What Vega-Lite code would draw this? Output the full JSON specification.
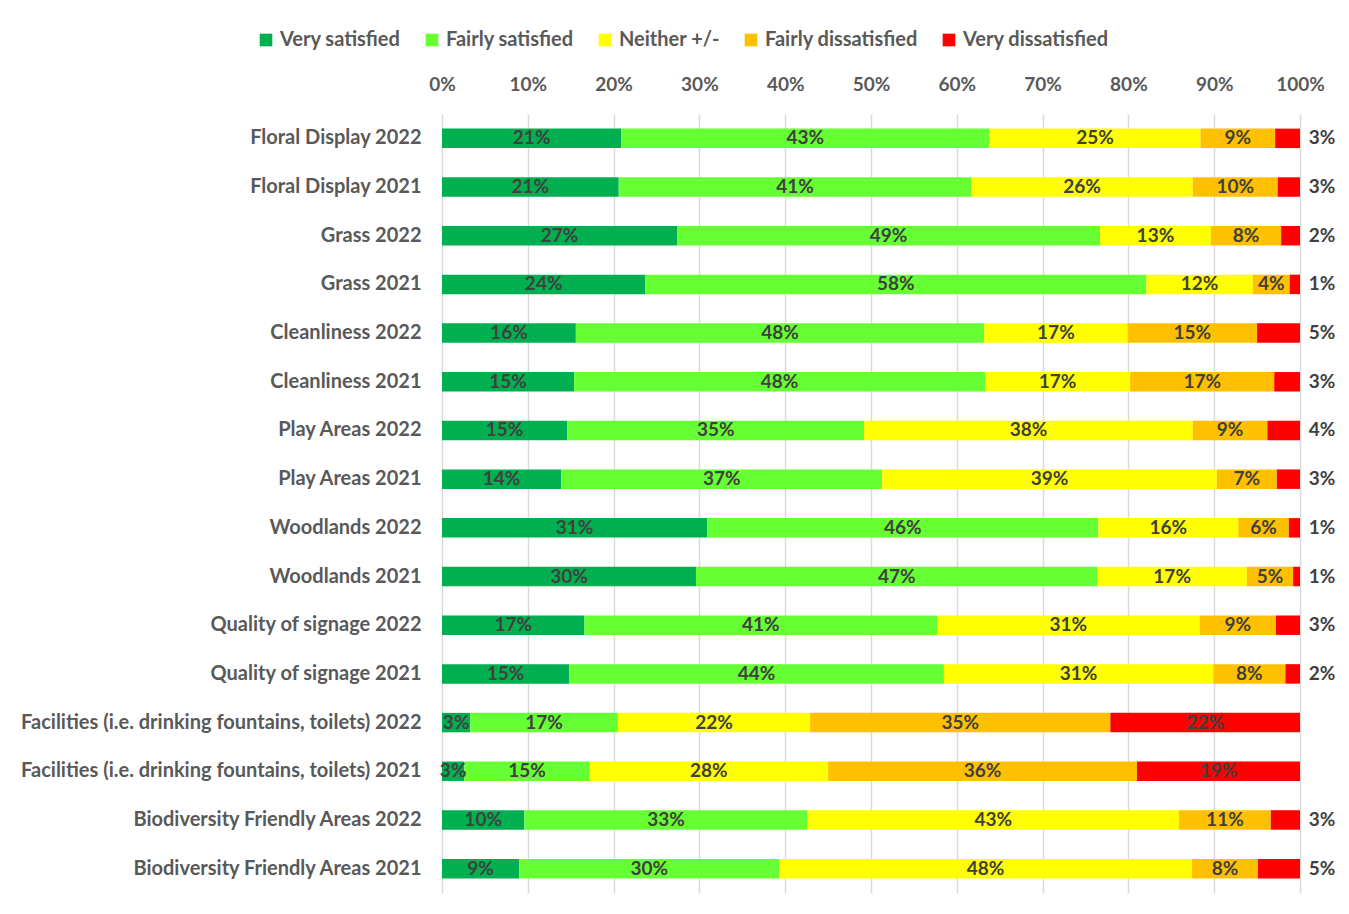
{
  "$schema": "https://vega.github.io/schema/vega-lite/v6.json",
  "autosize": {"type": "none"},
  "padding": {"left": 442, "top": 114, "right": 49, "bottom": 21},
  "width": 858,
  "height": 779,
  "background": "white",
  "config": {
    "view": {"stroke": null},
    "font": "Lato"
  },
  "data": {
    "values": [
      {"item": "Floral Display 2022", "rating": "Very satisfied", "value": 0.209},
      {"item": "Floral Display 2022", "rating": "Fairly satisfied", "value": 0.429},
      {"item": "Floral Display 2022", "rating": "Neither +/-", "value": 0.246},
      {"item": "Floral Display 2022", "rating": "Fairly dissatisfied", "value": 0.087},
      {"item": "Floral Display 2022", "rating": "Very dissatisfied", "value": 0.029},
      {"item": "Floral Display 2021", "rating": "Very satisfied", "value": 0.206},
      {"item": "Floral Display 2021", "rating": "Fairly satisfied", "value": 0.411},
      {"item": "Floral Display 2021", "rating": "Neither +/-", "value": 0.258},
      {"item": "Floral Display 2021", "rating": "Fairly dissatisfied", "value": 0.099},
      {"item": "Floral Display 2021", "rating": "Very dissatisfied", "value": 0.026},
      {"item": "Grass 2022", "rating": "Very satisfied", "value": 0.274},
      {"item": "Grass 2022", "rating": "Fairly satisfied", "value": 0.493},
      {"item": "Grass 2022", "rating": "Neither +/-", "value": 0.129},
      {"item": "Grass 2022", "rating": "Fairly dissatisfied", "value": 0.082},
      {"item": "Grass 2022", "rating": "Very dissatisfied", "value": 0.022},
      {"item": "Grass 2021", "rating": "Very satisfied", "value": 0.237},
      {"item": "Grass 2021", "rating": "Fairly satisfied", "value": 0.584},
      {"item": "Grass 2021", "rating": "Neither +/-", "value": 0.124},
      {"item": "Grass 2021", "rating": "Fairly dissatisfied", "value": 0.043},
      {"item": "Grass 2021", "rating": "Very dissatisfied", "value": 0.012},
      {"item": "Cleanliness 2022", "rating": "Very satisfied", "value": 0.156},
      {"item": "Cleanliness 2022", "rating": "Fairly satisfied", "value": 0.476},
      {"item": "Cleanliness 2022", "rating": "Neither +/-", "value": 0.167},
      {"item": "Cleanliness 2022", "rating": "Fairly dissatisfied", "value": 0.151},
      {"item": "Cleanliness 2022", "rating": "Very dissatisfied", "value": 0.050},
      {"item": "Cleanliness 2021", "rating": "Very satisfied", "value": 0.154},
      {"item": "Cleanliness 2021", "rating": "Fairly satisfied", "value": 0.479},
      {"item": "Cleanliness 2021", "rating": "Neither +/-", "value": 0.169},
      {"item": "Cleanliness 2021", "rating": "Fairly dissatisfied", "value": 0.168},
      {"item": "Cleanliness 2021", "rating": "Very dissatisfied", "value": 0.030},
      {"item": "Play Areas 2022", "rating": "Very satisfied", "value": 0.146},
      {"item": "Play Areas 2022", "rating": "Fairly satisfied", "value": 0.346},
      {"item": "Play Areas 2022", "rating": "Neither +/-", "value": 0.383},
      {"item": "Play Areas 2022", "rating": "Fairly dissatisfied", "value": 0.087},
      {"item": "Play Areas 2022", "rating": "Very dissatisfied", "value": 0.038},
      {"item": "Play Areas 2021", "rating": "Very satisfied", "value": 0.139},
      {"item": "Play Areas 2021", "rating": "Fairly satisfied", "value": 0.374},
      {"item": "Play Areas 2021", "rating": "Neither +/-", "value": 0.390},
      {"item": "Play Areas 2021", "rating": "Fairly dissatisfied", "value": 0.070},
      {"item": "Play Areas 2021", "rating": "Very dissatisfied", "value": 0.027},
      {"item": "Woodlands 2022", "rating": "Very satisfied", "value": 0.309},
      {"item": "Woodlands 2022", "rating": "Fairly satisfied", "value": 0.456},
      {"item": "Woodlands 2022", "rating": "Neither +/-", "value": 0.163},
      {"item": "Woodlands 2022", "rating": "Fairly dissatisfied", "value": 0.059},
      {"item": "Woodlands 2022", "rating": "Very dissatisfied", "value": 0.013},
      {"item": "Woodlands 2021", "rating": "Very satisfied", "value": 0.296},
      {"item": "Woodlands 2021", "rating": "Fairly satisfied", "value": 0.468},
      {"item": "Woodlands 2021", "rating": "Neither +/-", "value": 0.174},
      {"item": "Woodlands 2021", "rating": "Fairly dissatisfied", "value": 0.054},
      {"item": "Woodlands 2021", "rating": "Very dissatisfied", "value": 0.008},
      {"item": "Quality of signage 2022", "rating": "Very satisfied", "value": 0.166},
      {"item": "Quality of signage 2022", "rating": "Fairly satisfied", "value": 0.411},
      {"item": "Quality of signage 2022", "rating": "Neither +/-", "value": 0.306},
      {"item": "Quality of signage 2022", "rating": "Fairly dissatisfied", "value": 0.089},
      {"item": "Quality of signage 2022", "rating": "Very dissatisfied", "value": 0.028},
      {"item": "Quality of signage 2021", "rating": "Very satisfied", "value": 0.148},
      {"item": "Quality of signage 2021", "rating": "Fairly satisfied", "value": 0.437},
      {"item": "Quality of signage 2021", "rating": "Neither +/-", "value": 0.314},
      {"item": "Quality of signage 2021", "rating": "Fairly dissatisfied", "value": 0.084},
      {"item": "Quality of signage 2021", "rating": "Very dissatisfied", "value": 0.017},
      {"item": "Facilities (i.e. drinking fountains, toilets) 2022", "rating": "Very satisfied", "value": 0.033},
      {"item": "Facilities (i.e. drinking fountains, toilets) 2022", "rating": "Fairly satisfied", "value": 0.172},
      {"item": "Facilities (i.e. drinking fountains, toilets) 2022", "rating": "Neither +/-", "value": 0.224},
      {"item": "Facilities (i.e. drinking fountains, toilets) 2022", "rating": "Fairly dissatisfied", "value": 0.350},
      {"item": "Facilities (i.e. drinking fountains, toilets) 2022", "rating": "Very dissatisfied", "value": 0.221},
      {"item": "Facilities (i.e. drinking fountains, toilets) 2021", "rating": "Very satisfied", "value": 0.026},
      {"item": "Facilities (i.e. drinking fountains, toilets) 2021", "rating": "Fairly satisfied", "value": 0.146},
      {"item": "Facilities (i.e. drinking fountains, toilets) 2021", "rating": "Neither +/-", "value": 0.278},
      {"item": "Facilities (i.e. drinking fountains, toilets) 2021", "rating": "Fairly dissatisfied", "value": 0.360},
      {"item": "Facilities (i.e. drinking fountains, toilets) 2021", "rating": "Very dissatisfied", "value": 0.190},
      {"item": "Biodiversity Friendly Areas 2022", "rating": "Very satisfied", "value": 0.096},
      {"item": "Biodiversity Friendly Areas 2022", "rating": "Fairly satisfied", "value": 0.330},
      {"item": "Biodiversity Friendly Areas 2022", "rating": "Neither +/-", "value": 0.433},
      {"item": "Biodiversity Friendly Areas 2022", "rating": "Fairly dissatisfied", "value": 0.107},
      {"item": "Biodiversity Friendly Areas 2022", "rating": "Very dissatisfied", "value": 0.034},
      {"item": "Biodiversity Friendly Areas 2021", "rating": "Very satisfied", "value": 0.090},
      {"item": "Biodiversity Friendly Areas 2021", "rating": "Fairly satisfied", "value": 0.303},
      {"item": "Biodiversity Friendly Areas 2021", "rating": "Neither +/-", "value": 0.481},
      {"item": "Biodiversity Friendly Areas 2021", "rating": "Fairly dissatisfied", "value": 0.077},
      {"item": "Biodiversity Friendly Areas 2021", "rating": "Very dissatisfied", "value": 0.049}
    ]
  },
  "transform": [
    {
      "lookup": "rating",
      "from": {
        "data": {
          "values": [
            {"rating": "Very satisfied", "rank": 1},
            {"rating": "Fairly satisfied", "rank": 2},
            {"rating": "Neither +/-", "rank": 3},
            {"rating": "Fairly dissatisfied", "rank": 4},
            {"rating": "Very dissatisfied", "rank": 5}
          ]
        },
        "key": "rating",
        "fields": ["rank"]
      }
    }
  ],
  "encoding": {
    "y": {
      "field": "item",
      "type": "nominal",
      "sort": null,
      "scale": {"paddingInner": 0.6, "paddingOuter": 0.3},
      "axis": {
        "title": null,
        "domain": false,
        "ticks": false,
        "tickSize": 0,
        "labelPadding": 21,
        "labelLimit": 600,
        "labelFont": "Lato",
        "labelFontWeight": "bold",
        "labelFontSize": 20,
        "labelColor": "#595959"
      }
    }
  },
  "layer": [
    {
      "mark": {"type": "bar"},
      "encoding": {
        "x": {
          "field": "value",
          "type": "quantitative",
          "stack": "zero",
          "scale": {"domain": [0, 1], "nice": false},
          "axis": {
            "orient": "top",
            "title": null,
            "format": ".0%",
            "values": [0, 0.1, 0.2, 0.3, 0.4, 0.5, 0.6, 0.7, 0.8, 0.9, 1],
            "domain": false,
            "ticks": false,
            "tickSize": 0,
            "labelFlush": false,
            "labelOverlap": false,
            "labelPadding": 20,
            "labelFont": "Lato",
            "labelFontWeight": "bold",
            "labelFontSize": 19,
            "labelColor": "#595959",
            "grid": true,
            "gridColor": "#d9d9d9",
            "gridWidth": 1.5
          }
        },
        "order": {"field": "rank", "type": "quantitative", "sort": "ascending"},
        "color": {
          "field": "rating",
          "type": "nominal",
          "sort": ["Very satisfied", "Fairly satisfied", "Neither +/-", "Fairly dissatisfied", "Very dissatisfied"],
          "scale": {
            "domain": ["Very satisfied", "Fairly satisfied", "Neither +/-", "Fairly dissatisfied", "Very dissatisfied"],
            "range": ["#00B050", "#66FF33", "#FFFF00", "#FFC000", "#FF0000"]
          },
          "legend": {
            "title": null,
            "orient": "none",
            "direction": "horizontal",
            "legendX": -186,
            "legendY": -84,
            "symbolType": "square",
            "symbolSize": 160,
            "symbolStrokeWidth": 0,
            "labelFont": "Lato",
            "labelFontWeight": "bold",
            "labelFontSize": 20,
            "labelColor": "#595959",
            "labelOffset": 4,
            "columnPadding": 21
          }
        }
      }
    },
    {
      "transform": [{"filter": "!(datum.rating == 'Very dissatisfied' && datum.value < 0.1)"}],
      "mark": {"type": "text", "font": "Lato", "fontWeight": "bold", "fontSize": 19, "baseline": "middle", "align": "center"},
      "encoding": {
        "x": {"field": "value", "type": "quantitative", "stack": "zero", "bandPosition": 0.5},
        "order": {"field": "rank", "type": "quantitative", "sort": "ascending"},
        "color": {
          "field": "rating",
          "type": "nominal",
          "sort": ["Very satisfied", "Fairly satisfied", "Neither +/-", "Fairly dissatisfied", "Very dissatisfied"]
        },
        "fill": {"value": "#404040"},
        "text": {"field": "value", "type": "quantitative", "format": ".0%"}
      }
    },
    {
      "transform": [{"filter": "datum.rating == 'Very dissatisfied' && datum.value < 0.1"}],
      "mark": {"type": "text", "font": "Lato", "fontWeight": "bold", "fontSize": 19, "baseline": "middle", "align": "center", "dx": 22, "fill": "#404040"},
      "encoding": {
        "x": {"datum": 1, "type": "quantitative"},
        "text": {"field": "value", "type": "quantitative", "format": ".0%"}
      }
    }
  ]
}
